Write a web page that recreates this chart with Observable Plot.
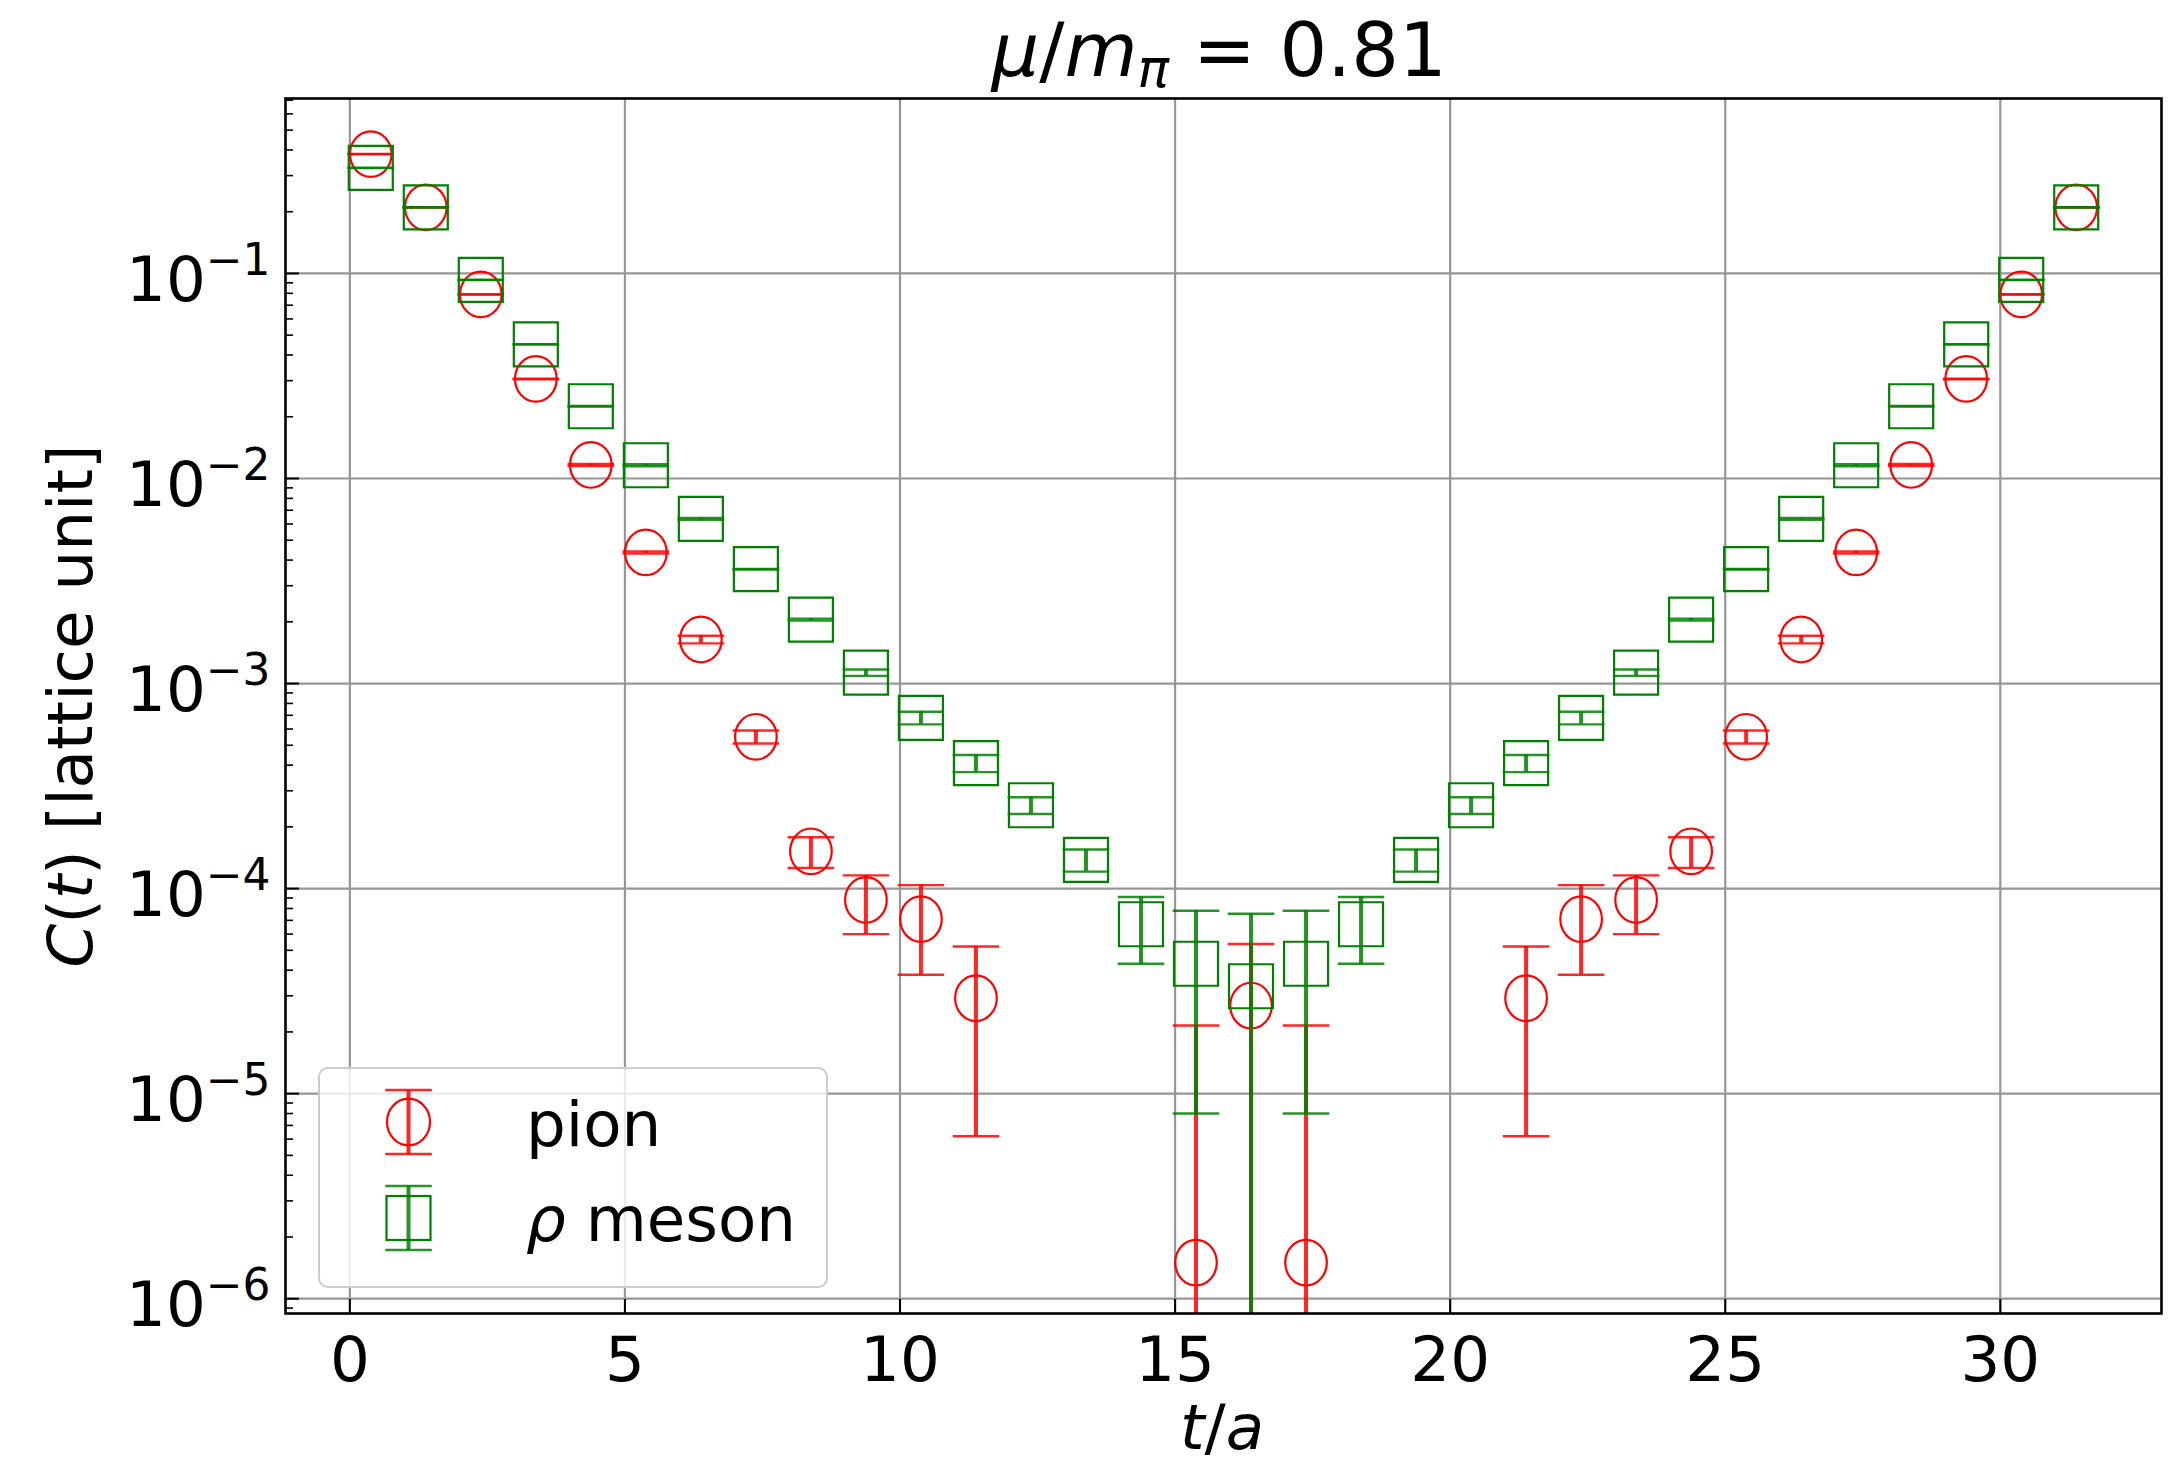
<!DOCTYPE html>
<html>
<head>
<meta charset="utf-8">
<script src="https://cdn.jsdelivr.net/npm/d3@7"></script>
<script src="https://cdn.jsdelivr.net/npm/@observablehq/plot@0.6"></script>
<style>
  html, body { margin: 0; padding: 0; background: #ffffff; }
  #chart { width: 2176px; height: 1464px; }
</style>
</head>
<body>
<div id="chart"></div>
<script>
// ---------------- data ----------------
const t = [0,1,2,3,4,5,6,7,8,9,10,11,12,13,14,15,16,17,18,19,20,21,22,23,24,25,26,27,28,29,30,31];
const xShift = 0.38; // points are drawn at t + 0.38

const pionC = [0.382, 0.210, 0.0790, 0.0306, 0.01164, 0.00436, 0.00164, 5.50e-4, 1.52e-4, 8.8e-5, 7.1e-5, 2.92e-5,
  null, null, null, 1.5e-6, 2.69e-5, 1.5e-6, null, null, null,
  2.92e-5, 7.1e-5, 8.8e-5, 1.52e-4, 5.50e-4, 0.00164, 0.00436, 0.01164, 0.0306, 0.0790, 0.210];
const pionErr = [0.001, 0.0005, 0.0002, 0.0001, 1.3e-4, 5e-5, 7e-5, 4e-5, 2.6e-5, 2.8e-5, 3.3e-5, 2.3e-5,
  null, null, null, 2.0e-5, 2.68e-5, 2.0e-5, null, null, null,
  2.3e-5, 3.3e-5, 2.8e-5, 2.6e-5, 4e-5, 7e-5, 5e-5, 1.3e-4, 0.0001, 0.0002, 0.0005];

const rhoC = [0.327, 0.210, 0.0930, 0.0451, 0.0225, 0.0116, 0.00635, 0.00361, 0.00205, 0.00113, 6.8e-4, 4.09e-4,
  2.55e-4, 1.38e-4, 6.7e-5, 4.3e-5, 3.34e-5, 4.3e-5, 6.7e-5, 1.38e-4, 2.55e-4,
  4.09e-4, 6.8e-4, 0.00113, 0.00205, 0.00361, 0.00635, 0.0116, 0.0225, 0.0451, 0.0930, 0.210];
const rhoErr = [0.0008, 0.0005, 0.0002, 0.0001, 5e-5, 1.3e-4, 7e-5, 1e-5, 2.3e-5, 4e-5, 4.8e-5, 3.9e-5,
  2.4e-5, 1.7e-5, 2.4e-5, 3.5e-5, 4.2e-5, 3.5e-5, 2.4e-5, 1.7e-5, 2.4e-5,
  3.9e-5, 4.8e-5, 4e-5, 2.3e-5, 1e-5, 7e-5, 1.3e-4, 5e-5, 0.0001, 0.0002, 0.0005];

const seriesNames = ["pion", "ρ meson"];
const seriesColors = ["red", "green"];

const xTicks = [0, 5, 10, 15, 20, 25, 30];
const yMajor = [1e-6, 1e-5, 1e-4, 1e-3, 1e-2, 1e-1];
const yMinorMultipliers = [2, 3, 4, 5, 6, 7, 8, 9];

const xDomain = [-1.17, 32.93];
const yDomain = [8.47e-7, 0.713];

// ---------------- layout ----------------
const W = 2176, H = 1464;
const mL = 285, mR = 15, mT = 98, mB = 151;
const frameW = W - mL - mR, frameH = H - mT - mB;
const FONT = "DejaVu Sans";
const FS = 62.7;

// ---------------- build tables ----------------
function rows(C, E, name) {
  return t.map((ti, i) => ({t: ti, x: ti + xShift, c: C[i], e: E[i], name}))
          .filter(d => d.c != null);
}
const pion = rows(pionC, pionErr, seriesNames[0]);
const rho = rows(rhoC, rhoErr, seriesNames[1]);

function bars(R) {
  return R.map(d => {
    const lo = d.c - d.e;
    return {x: d.x, hi: d.c + d.e, lo: Math.max(lo, yDomain[0]), loVisible: lo > yDomain[0]};
  });
}
function caps(R) {
  const out = [];
  for (const b of bars(R)) {
    out.push({x: b.x, y: b.hi});
    if (b.loVisible) out.push({x: b.x, y: b.lo});
  }
  return out;
}

const yMinor = [];
for (let k = -7; k <= -1; k++) {
  for (const m of yMinorMultipliers) {
    const v = m * Math.pow(10, k);
    if (v > yDomain[0] && v < yDomain[1]) yMinor.push(v);
  }
}

// ---------------- custom symbols ----------------
const ellipseSym = {
  draw(ctx, size) {
    const r = Math.sqrt(size / Math.PI), rx = r * 0.913, ry = r, k = 0.5523;
    ctx.moveTo(rx, 0);
    ctx.bezierCurveTo(rx, k * ry, k * rx, ry, 0, ry);
    ctx.bezierCurveTo(-k * rx, ry, -rx, k * ry, -rx, 0);
    ctx.bezierCurveTo(-rx, -k * ry, -k * rx, -ry, 0, -ry);
    ctx.bezierCurveTo(k * rx, -ry, rx, -k * ry, rx, 0);
    ctx.closePath();
  }
};
const squareSym = {
  draw(ctx, size) {
    const r = Math.sqrt(size / Math.PI);
    ctx.moveTo(-r, -r); ctx.lineTo(r, -r); ctx.lineTo(r, r); ctx.lineTo(-r, r); ctx.closePath();
  }
};
const capSym = {
  draw(ctx, size) {
    const r = Math.sqrt(size / Math.PI);
    ctx.moveTo(-r, 0); ctx.lineTo(r, 0);
  }
};

const barOpacity = 0.85;

const plot = Plot.plot({
  width: W, height: H,
  marginLeft: mL, marginRight: mR, marginTop: mT, marginBottom: mB,
  x: {domain: xDomain},
  y: {type: "log", domain: yDomain},
  style: {fontFamily: FONT, fontSize: FS + "px", background: "white", color: "black"},
  marks: [
    // grid
    Plot.ruleX(xTicks, {stroke: "#969696", strokeWidth: 2.2}),
    Plot.ruleY(yMajor, {stroke: "#969696", strokeWidth: 2.2}),
    // pion
    Plot.ruleX(bars(pion), {x: "x", y1: "lo", y2: "hi", stroke: seriesColors[0], strokeWidth: 4, strokeOpacity: barOpacity}),
    Plot.dot(caps(pion), {x: "x", y: "y", r: 23.3, symbol: capSym, stroke: seriesColors[0], fill: "none", strokeWidth: 2.4, strokeOpacity: barOpacity}),
    Plot.dot(pion, {x: "x", y: "c", r: 22.8, symbol: ellipseSym, stroke: seriesColors[0], fill: "none", strokeWidth: 2.2}),
    // rho
    Plot.ruleX(bars(rho), {x: "x", y1: "lo", y2: "hi", stroke: seriesColors[1], strokeWidth: 4, strokeOpacity: barOpacity}),
    Plot.dot(caps(rho), {x: "x", y: "y", r: 23.3, symbol: capSym, stroke: seriesColors[1], fill: "none", strokeWidth: 2.4, strokeOpacity: barOpacity}),
    Plot.dot(rho, {x: "x", y: "c", r: 22, symbol: squareSym, stroke: seriesColors[1], fill: "none", strokeWidth: 2.2}),
    // inward ticks
    Plot.tickX(xTicks, {x: d => d, insetTop: frameH - 14, stroke: "black", strokeWidth: 2}),
    Plot.tickY(yMajor, {y: d => d, insetRight: frameW - 14, stroke: "black", strokeWidth: 2}),
    Plot.tickY(yMinor, {y: d => d, insetRight: frameW - 8, stroke: "black", strokeWidth: 1.6}),
    // frame
    Plot.frame({stroke: "black", strokeWidth: 2.6}),
    // tick labels
    Plot.axisX({ticks: xTicks, tickSize: 0, tickPadding: 23, label: null, fontSize: FS, tickFormat: d => String(d)}),
    Plot.axisY({ticks: yMajor, tickSize: 0, tickPadding: 15, label: null, fontSize: FS,
                tickFormat: d => "10^" + Math.round(Math.log10(d))})
  ]
});

document.getElementById("chart").appendChild(plot);

// ---------------- superscript tick labels ----------------
const svg = d3.select(plot);
svg.selectAll('g[aria-label="y-axis tick label"] text').each(function () {
  const s = this.textContent;
  if (!s.includes("^")) return;
  const exp = s.split("^")[1].replace("-", "\u2212");
  this.textContent = "";
  this.setAttribute("y", "0.437em");
  const el = d3.select(this);
  el.append("tspan").text("10");
  el.append("tspan").attr("dy", -25.7).attr("font-size", FS * 0.7).text(exp);
});

// ---------------- title & axis labels ----------------
const title = svg.append("text")
  .attr("x", 1219).attr("y", 76).attr("text-anchor", "middle")
  .attr("font-family", FONT).attr("font-size", 75).attr("fill", "black");
title.append("tspan").attr("font-style", "italic").text("μ");
title.append("tspan").text("/");
title.append("tspan").attr("font-style", "italic").text("m");
title.append("tspan").attr("font-style", "italic").attr("font-size", 52.5).attr("dy", 11).text("π");
title.append("tspan").attr("dy", -11).text(" = 0.81");

const xl = svg.append("text")
  .attr("x", 1222).attr("y", 1449).attr("text-anchor", "middle")
  .attr("font-family", FONT).attr("font-size", FS).attr("fill", "black");
xl.append("tspan").attr("font-style", "italic").text("t");
xl.append("tspan").text("/");
xl.append("tspan").attr("font-style", "italic").text("a");

const yl = svg.append("text")
  .attr("transform", "translate(92,706) rotate(-90)").attr("text-anchor", "middle")
  .attr("font-family", FONT).attr("font-size", FS).attr("fill", "black");
yl.append("tspan").attr("font-style", "italic").text("C");
yl.append("tspan").text("(");
yl.append("tspan").attr("font-style", "italic").text("t");
yl.append("tspan").text(") [lattice unit]");

// ---------------- legend ----------------
const lg = svg.append("g").attr("class", "legend");
lg.append("rect").attr("x", 319).attr("y", 1068).attr("width", 508).attr("height", 219)
  .attr("rx", 9).attr("fill", "white").attr("fill-opacity", 0.8)
  .attr("stroke", "#cccccc").attr("stroke-width", 2);
const legendItems = [
  {name: seriesNames[0], color: seriesColors[0], cy: 1122, base: 1146, kind: "circle"},
  {name: seriesNames[1], color: seriesColors[1], cy: 1218, base: 1241, kind: "square"}
];
const lx = 408.5;
for (const it of legendItems) {
  lg.append("line").attr("x1", lx).attr("x2", lx).attr("y1", it.cy - 32).attr("y2", it.cy + 32)
    .attr("stroke", it.color).attr("stroke-width", 4).attr("stroke-opacity", barOpacity);
  for (const dy of [-32, 32]) {
    lg.append("line").attr("x1", lx - 23.3).attr("x2", lx + 23.3).attr("y1", it.cy + dy).attr("y2", it.cy + dy)
      .attr("stroke", it.color).attr("stroke-width", 2.4).attr("stroke-opacity", barOpacity);
  }
  if (it.kind === "circle") {
    lg.append("ellipse").attr("cx", lx).attr("cy", it.cy).attr("rx", 21.5).attr("ry", 23.3)
      .attr("fill", "none").attr("stroke", it.color).attr("stroke-width", 2.2);
  } else {
    lg.append("rect").attr("x", lx - 22).attr("y", it.cy - 22).attr("width", 44).attr("height", 44)
      .attr("fill", "none").attr("stroke", it.color).attr("stroke-width", 2.2);
  }
  const tx = lg.append("text").attr("x", 526).attr("y", it.base).attr("text-anchor", "start")
    .attr("font-family", FONT).attr("font-size", FS).attr("fill", "black");
  if (it.name.startsWith("ρ")) {
    tx.append("tspan").attr("font-style", "italic").text("ρ");
    tx.append("tspan").text(it.name.slice(1));
  } else {
    tx.text(it.name);
  }
}
</script>
</body>
</html>
